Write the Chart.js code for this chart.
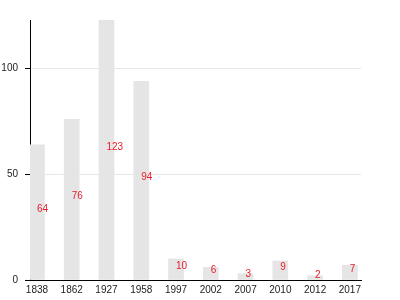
<!DOCTYPE html>
<html>
<head>
<meta charset="utf-8">
<script src="https://cdn.jsdelivr.net/npm/chart.js@4"></script>
<style>
  body { margin: 0; background: #fff; }
</style>
</head>
<body>
<canvas id="myChart" width="400" height="300"></canvas>
<script>
const years = ["1838", "1862", "1927", "1958", "1997", "2002", "2007", "2010", "2012", "2017"];
const counts = [64, 76, 123, 94, 10, 6, 3, 9, 2, 7];
const yTicks = [0, 50, 100];

// value labels, left edge at bar centre, baseline at mid height
const midLabels = {
  id: "midLabels",
  afterDatasetsDraw(chart) {
    const ctx = chart.ctx;
    const meta = chart.getDatasetMeta(0);
    ctx.save();
    ctx.font = "10px 'Liberation Sans', Arial, sans-serif";
    ctx.fillStyle = "rgb(232,28,44)";
    ctx.textAlign = "left";
    ctx.textBaseline = "alphabetic";
    meta.data.forEach((bar, i) => {
      ctx.fillText(String(counts[i]), bar.x, (bar.y + bar.base) / 2);
    });
    ctx.restore();
  }
};

const ctx = document.getElementById("myChart");
const myChart = new Chart(ctx, {
  type: "bar",
  data: {
    datasets: [{
      data: counts.map((v, i) => ({ x: i, y: v })),
      backgroundColor: "#e5e5e5",
      barThickness: 15,
    }]
  },
  options: {
    responsive: false,
    animation: false,
    layout: { padding: { top: 20, right: 39, left: 0, bottom: 0 } },
    plugins: { legend: { display: false }, tooltip: { enabled: false } },
    scales: {
      x: {
        type: "linear",
        offset: false,
        min: -0.2,
        max: 9.32,
        grid: { display: false, drawTicks: false },
        border: { color: "#000" },
        ticks: {
          stepSize: 1,
          autoSkip: false,
          includeBounds: false,
          maxRotation: 0,
          padding: 4,
          color: "#222",
          font: { family: "'Liberation Sans', Arial, sans-serif", size: 10 },
          callback: (v) => Number.isInteger(v) ? years[v] : ""
        },
        afterFit(scale) { scale.height = 20; }
      },
      y: {
        min: 0,
        max: Math.max(...counts),
        grid: { color: "#e8e8e8", tickColor: "#000", tickLength: 5 },
        border: { color: "#000" },
        afterBuildTicks(scale) { scale.ticks = yTicks.map(v => ({ value: v })); },
        ticks: {
          includeBounds: false,
          padding: 7,
          color: "#222",
          font: { family: "'Liberation Sans', Arial, sans-serif", size: 10 }
        },
        afterFit(scale) { scale.width = 30; }
      }
    }
  },
  plugins: [midLabels]
});
myChart;
</script>
</body>
</html>
